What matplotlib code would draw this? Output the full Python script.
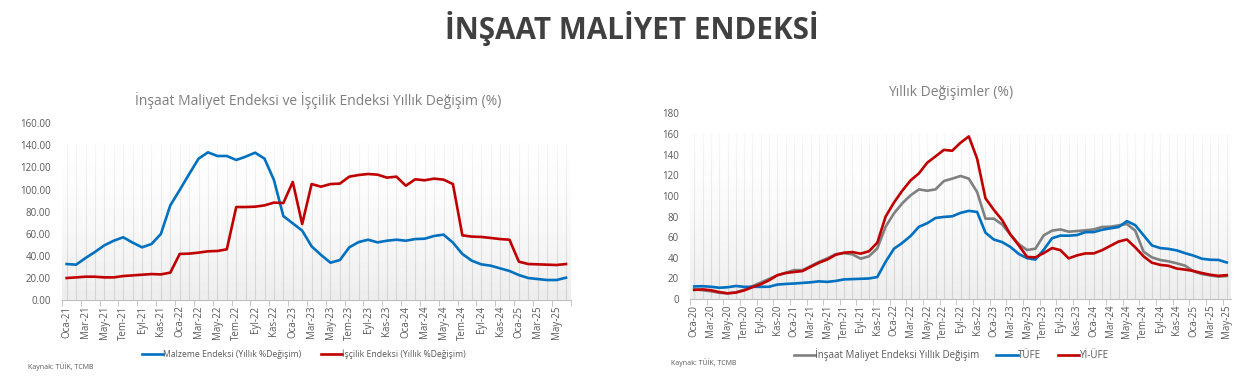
#!/usr/bin/env python3

import matplotlib
matplotlib.use("Agg")
import matplotlib.pyplot as plt
import numpy as np

plt.rcParams['font.family'] = ['Open Sans', 'DejaVu Sans']

months = ["Oca", "Şub", "Mar", "Nis", "May", "Haz", "Tem", "Ağu", "Eyl", "Eki", "Kas", "Ara"]

# Left chart: Jan 2021 - Jun 2025
left_labels = [m + "-" + str(y) for y in range(21, 26) for m in months][:54]
malzeme = [32.6, 32.0, 38.0, 43.5, 49.5, 53.7, 56.8, 52.0, 47.7, 50.7, 59.8, 85.7,
           99.6, 114.0, 128.0, 133.7, 130.4, 130.4, 126.8, 129.8, 133.4, 128.0, 108.7, 76.0,
           69.4, 62.8, 48.6, 40.8, 33.8, 36.2, 47.7, 52.5, 54.6, 52.2, 53.7, 54.6,
           53.7, 55.2, 55.5, 58.0, 59.2, 52.0, 41.7, 35.6, 32.3, 31.1, 28.7, 26.3,
           22.6, 19.9, 19.0, 18.1, 18.1, 20.2]
iscilik = [19.9, 20.5, 21.1, 21.1, 20.5, 20.5, 21.7, 22.3, 22.9, 23.5, 23.2, 24.8,
           41.7, 42.0, 42.9, 44.1, 44.4, 45.9, 84.2, 84.2, 84.5, 85.7, 88.2, 87.8,
           106.9, 68.8, 105.0, 102.6, 105.0, 105.4, 111.7, 113.2, 114.1, 113.5, 110.8, 111.7,
           103.5, 109.3, 108.4, 109.9, 109.0, 105.0, 58.6, 57.4, 57.1, 56.2, 55.2, 54.6,
           34.7, 32.6, 32.3, 32.0, 31.7, 32.6]

# Right chart: Jan 2020 - May 2025
right_labels = [m + "-" + str(y) for y in range(20, 26) for m in months][:65]
insaat = [9.5, 8.5, 7.5, 6.0, 5.5, 6.5, 9.0, 12.5, 16.0, 19.5, 23.0, 25.5,
          28.0, 28.0, 32.0, 36.0, 39.5, 43.5, 44.5, 43.3, 39.1, 41.4, 49.1, 70.1,
          83.0, 92.8, 100.5, 106.3, 105.0, 106.3, 114.4, 116.7, 119.3, 116.7, 103.7, 77.9,
          77.9, 72.4, 62.4, 53.3, 47.5, 48.8, 61.7, 66.3, 67.5, 65.3, 65.9, 66.6,
          67.5, 69.8, 70.1, 71.4, 72.7, 66.3, 45.9, 40.4, 37.8, 36.5, 34.6, 32.3,
          26.8, 24.2, 22.9, 21.7, 22.3]
tufe = [12.2, 12.4, 11.9, 10.9, 11.4, 12.6, 11.8, 11.8, 11.8, 11.9, 14.0, 14.6,
        15.0, 15.6, 16.2, 17.1, 16.6, 17.5, 19.0, 19.3, 19.6, 19.9, 21.3, 36.1,
        48.7, 54.4, 61.1, 70.0, 73.5, 78.6, 79.6, 80.2, 83.5, 85.5, 84.4, 64.3,
        57.7, 55.2, 50.5, 43.7, 39.6, 38.2, 47.8, 58.9, 61.5, 61.4, 62.0, 64.8,
        64.9, 67.1, 68.5, 69.8, 75.5, 71.6, 61.8, 52.0, 49.4, 48.6, 47.1, 44.4,
        42.1, 39.1, 38.1, 37.9, 35.4]
yiufe = [8.8, 9.3, 8.5, 6.7, 5.5, 6.2, 8.3, 11.5, 14.3, 18.2, 23.1, 25.2,
         26.2, 27.1, 31.2, 35.2, 38.3, 42.9, 44.9, 45.5, 44.0, 46.3, 54.6, 79.9,
         93.5, 105.0, 115.0, 121.8, 132.2, 138.3, 144.6, 143.8, 151.5, 157.7, 136.0, 97.7,
         86.5, 76.6, 62.5, 52.1, 40.8, 40.4, 44.5, 49.4, 47.4, 39.4, 42.3, 44.2,
         44.2, 47.3, 51.5, 55.7, 57.7, 50.1, 41.4, 35.2, 33.1, 32.2, 29.5, 28.5,
         27.2, 25.2, 23.5, 22.5, 23.1]

BLUE = "#0070C0"
RED = "#C00000"
GRAY = "#808080"
TXT = "#595959"


def style_axes(ax, n, ymax, ystep, fmt):
    # Gradient plot area (white at top, light gray at bottom)
    top = ymax * 0.89
    grad = np.linspace(0.93, 0.995, 256).reshape(-1, 1)
    ax.imshow(grad, cmap="gray", vmin=0, vmax=1, aspect="auto",
              extent=(-0.5, n - 0.5, 0, top), origin="lower", zorder=0)
    # Vertical gridline at each category, fading towards the top
    ax.vlines(np.arange(n), 0, top, color="#d4d4d4", lw=0.8, zorder=1)
    fade = np.zeros((256, 1, 4))
    fade[..., :3] = 1.0
    fade[:, 0, 3] = np.linspace(0.0, 0.85, 256)
    ax.imshow(fade, aspect="auto", extent=(-0.5, n - 0.5, 0, top),
              origin="lower", zorder=1.5)

    ax.set_xlim(-0.5, n - 0.5)
    ax.set_ylim(0, ymax)
    for s in ["top", "right", "left"]:
        ax.spines[s].set_visible(False)
    ax.spines["bottom"].set_color("#bfbfbf")
    ax.spines["bottom"].set_linewidth(0.8)

    ax.set_yticks(np.arange(0, ymax + 0.1, ystep))
    ax.set_yticklabels([fmt.format(v) for v in np.arange(0, ymax + 0.1, ystep)])
    ax.tick_params(axis="y", length=0, labelsize=7, labelcolor=TXT, pad=8)

    ax.set_xticks(np.arange(0, n, 2))
    ax.set_xticks(np.arange(-0.5, n, 2), minor=True)
    ax.tick_params(axis="x", which="major", length=0, labelsize=7,
                   labelcolor=TXT, labelrotation=90, pad=4)
    ax.tick_params(axis="x", which="minor", length=4, color="#bfbfbf")


fig = plt.figure(figsize=(12.54, 3.78), dpi=100)

fig.text(0.5035, 0.925, "İNŞAAT MALİYET ENDEKSİ", ha="center", va="center",
         fontsize=21.3, fontweight="bold", color="#404040")

# Left chart
ax1 = fig.add_axes([0.0494, 0.2063, 0.4057, 0.4675])
style_axes(ax1, len(left_labels), 160, 20, "{:.2f}")
x1 = np.arange(len(left_labels))
ax1.plot(x1, malzeme, color=BLUE, lw=1.9, zorder=3, label="Malzeme Endeksi (Yıllık %Değişim)")
ax1.plot(x1, iscilik, color=RED, lw=1.9, zorder=3, label="İşçilik Endeksi (Yıllık %Değişim)")
ax1.set_xticklabels(left_labels[::2])
fig.text(0.2535, 0.735, "İnşaat Maliyet Endeksi ve İşçilik Endeksi Yıllık Değişim (%)",
         ha="center", va="center", fontsize=10, color="#7f7f7f")
ax1.legend(loc="center", bbox_to_anchor=(0.2425, 0.063), bbox_transform=fig.transFigure,
           ncol=2, frameon=False, fontsize=6.2, labelcolor=TXT, handlelength=2.4,
           handletextpad=0.05, columnspacing=2.3)
fig.text(0.022, 0.03, "Kaynak: TÜİK, TCMB", fontsize=5, color=TXT, va="center")

# Right chart
ax2 = fig.add_axes([0.5503, 0.209, 0.4313, 0.491])
style_axes(ax2, len(right_labels), 180, 20, "{:.0f}")
x2 = np.arange(len(right_labels))
ax2.plot(x2, insaat, color=GRAY, lw=1.9, zorder=3, label="İnşaat Maliyet Endeksi Yıllık Değişim")
ax2.plot(x2, tufe, color=BLUE, lw=1.9, zorder=3, label="TÜFE")
ax2.plot(x2, yiufe, color=RED, lw=1.9, zorder=3, label="Yİ-ÜFE")
ax2.set_xticklabels(right_labels[::2])
fig.text(0.758, 0.754, "Yıllık Değişimler (%)", ha="center", va="center",
         fontsize=10, color="#7f7f7f")
ax2.legend(loc="center", bbox_to_anchor=(0.7585, 0.062), bbox_transform=fig.transFigure,
           ncol=3, frameon=False, fontsize=7, labelcolor=TXT, handlelength=2.2,
           handletextpad=0.05, columnspacing=1.7)
fig.text(0.535, 0.04, "Kaynak: TÜİK, TCMB", fontsize=5, color=TXT, va="center")

plt.savefig("out.png", dpi=100)
print("Image saved to out.png")
